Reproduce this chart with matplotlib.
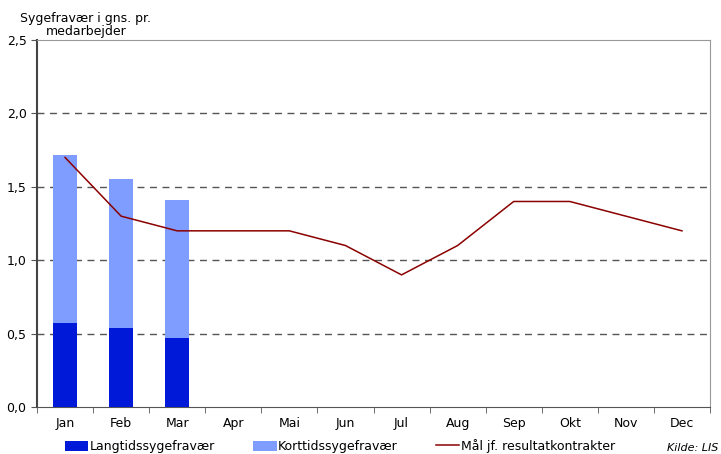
import matplotlib.pyplot as plt
import numpy as np
from matplotlib.ticker import FuncFormatter, MultipleLocator

months = ['Jan', 'Feb', 'Mar', 'Apr', 'Mai', 'Jun', 'Jul', 'Aug', 'Sep', 'Okt', 'Nov', 'Dec']
langtid = [0.57, 0.54, 0.47]
korttid = [1.15, 1.01, 0.94]
maal = [1.7, 1.3, 1.2, 1.2, 1.2, 1.1, 0.9, 1.1, 1.4, 1.4, 1.3, 1.2]

plt.rcParams['font.family'] = ['DejaVu Sans']

fig = plt.figure(figsize=(7.21, 4.54), dpi=100)
ax = fig.add_axes([37 / 721, 47 / 454, 673 / 721, 367 / 454])

x = np.arange(len(months))
xb = np.arange(len(langtid))
b1 = ax.bar(xb, langtid, width=0.43, color='#0018d8', label='Langtidssygefravær', zorder=3)
b2 = ax.bar(xb, korttid, width=0.43, bottom=langtid, color='#7f9cff', label='Korttidssygefravær', zorder=3)
l1, = ax.plot(x, maal, color='#8b0000', lw=1.1, label='Mål jf. resultatkontrakter', zorder=4)

ax.set_xlim(-0.5, 11.5)
ax.set_ylim(0, 2.5)
ax.yaxis.set_major_locator(MultipleLocator(0.5))
ax.yaxis.set_major_formatter(FuncFormatter(lambda v, p: f'{v:.1f}'.replace('.', ',')))
ax.set_xticks(x)
ax.set_xticklabels(months, fontsize=9)
ax.set_xticks(np.arange(-0.5, 12, 1), minor=True)
ax.tick_params(axis='x', which='major', length=0, pad=7.5)
ax.tick_params(axis='x', which='minor', length=4, color='#555555', direction='out')
ax.tick_params(axis='y', labelsize=9, length=4, color='#555555')

for yv in [0.5, 1.0, 1.5, 2.0]:
    ax.axhline(yv, color='#555555', lw=1, ls=(0, (5, 4)), zorder=1)

ax.spines['top'].set_color('#999999')
ax.spines['right'].set_color('#999999')
ax.spines['left'].set_color('#444444')
ax.spines['left'].set_linewidth(1.5)
ax.spines['bottom'].set_color('#555555')

fig.text(86 / 721, 1 - 25 / 454, 'Sygefravær i gns. pr.\nmedarbejder', ha='center', va='center',
         fontsize=9, linespacing=1.05)

fig.legend([b1, b2, l1], [b1.get_label(), b2.get_label(), l1.get_label()],
           loc='center left', bbox_to_anchor=(65 / 721, 1 - 446 / 454), ncol=3, frameon=False,
           fontsize=9, borderpad=0, borderaxespad=0,
           handlelength=1.85, handleheight=0.85, columnspacing=3.1, handletextpad=0.1)
fig.text(718 / 721, 1 - 448 / 454, 'Kilde: LIS', ha='right', va='center', fontsize=8, style='italic')

fig.savefig('out.png', dpi=100)
